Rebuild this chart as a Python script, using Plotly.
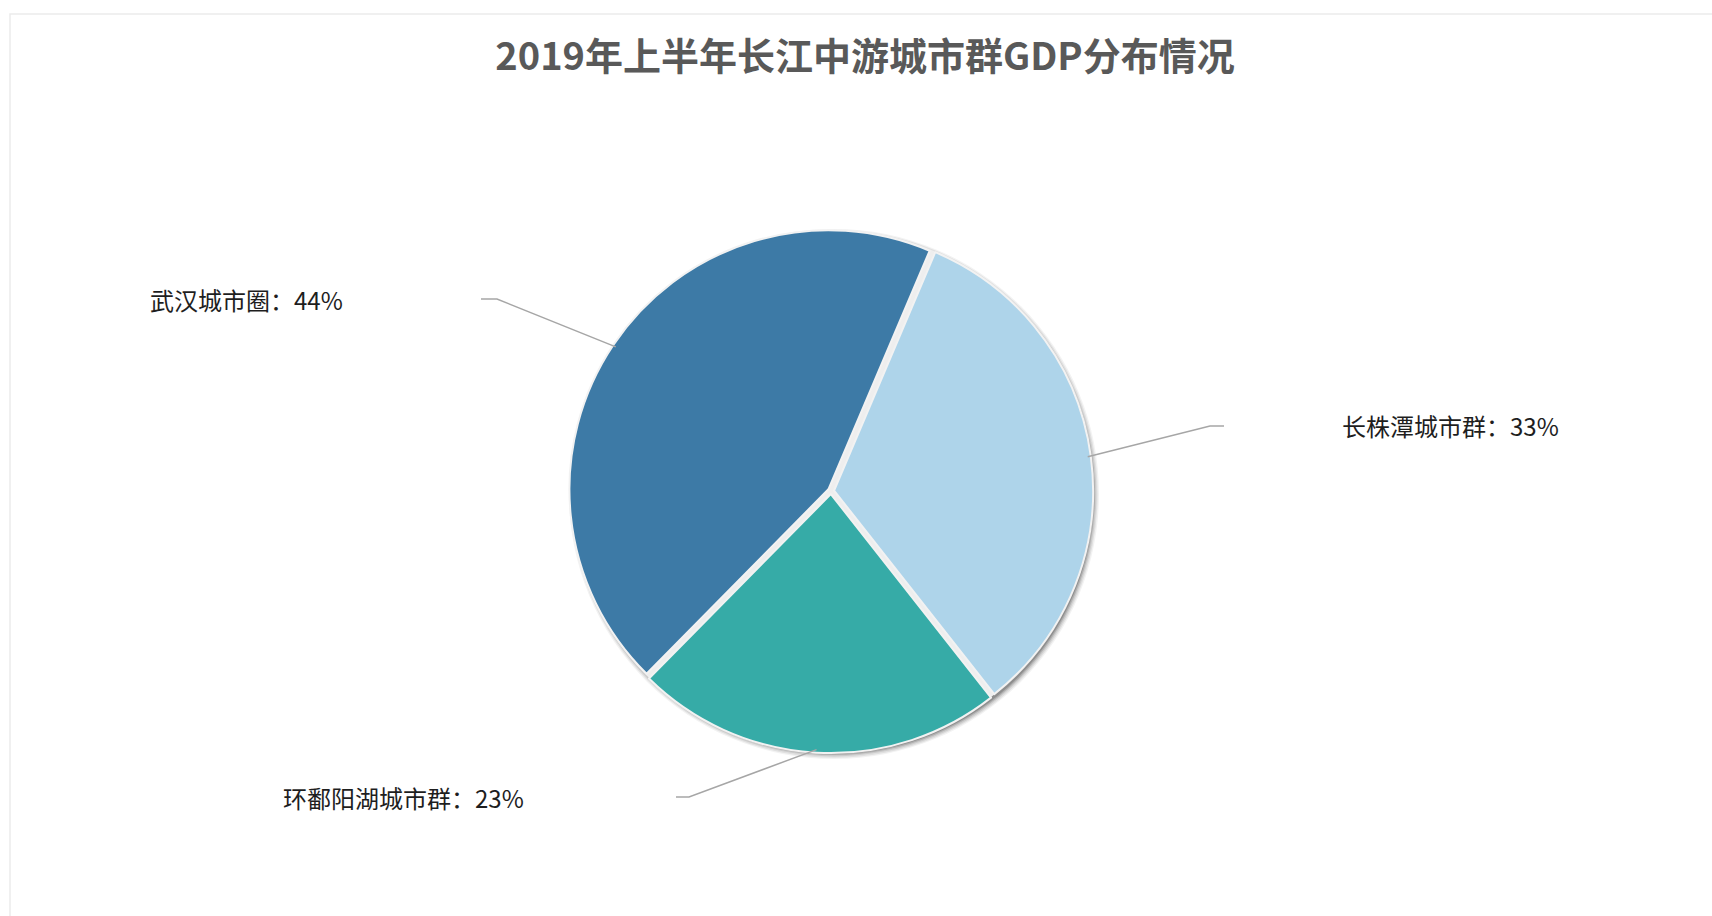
import math
import plotly.graph_objects as go

# Data: share of H1 2019 GDP among the city clusters of the middle Yangtze
regions = ["长株潭城市群", "环鄱阳湖城市群", "武汉城市圈"]
shares = [33, 23, 44]
colors = ["#aed4ea", "#36aba7", "#3d7aa6"]

TITLE = "2019年上半年长江中游城市群GDP分布情况"

# Canvas and pie geometry (pixels)
W, H = 1712, 916
CX, CY, R = 831, 491, 259
PULL = 0.012
ROTATION = 23
FONT = "Noto Sans CJK SC"

# Label layout: elbow point of leader, end of horizontal stub, text anchor x, side
label_layout = {
    "长株潭城市群": dict(elbow=(1210, 426), end=1224, tx=1340, side="left"),
    "环鄱阳湖城市群": dict(elbow=(689, 797), end=676, tx=526, side="right"),
    "武汉城市圈": dict(elbow=(497, 299), end=481, tx=345, side="right"),
}


def px(x):
    return x / W


def py(y):
    return 1 - y / H


# Pie domain: plotly shrinks the radius by (1 + pull)
half = R * (1 + PULL)
dom_x = [px(CX - half), px(CX + half)]
dom_y = [py(CY + half), py(CY - half)]

fig = go.Figure()
fig.add_trace(go.Pie(
    labels=regions,
    values=shares,
    sort=False,
    direction="clockwise",
    rotation=ROTATION,
    pull=[PULL] * len(shares),
    marker=dict(colors=colors, line=dict(color="#f2f2f2", width=2)),
    textinfo="none",
    hoverinfo="label+percent",
    showlegend=False,
    domain=dict(x=dom_x, y=dom_y),
))

shapes = []
# Soft drop shadow behind the pie
for k, a in enumerate([0.05, 0.07, 0.09, 0.14, 0.18]):
    rr = R + 6 - k * 1.3
    ox, oy = CX + 3, CY + 3
    shapes.append(dict(
        type="circle", xref="paper", yref="paper", layer="below",
        x0=px(ox - rr), x1=px(ox + rr), y0=py(oy + rr), y1=py(oy - rr),
        fillcolor=f"rgba(0,0,0,{a})", line=dict(width=0),
    ))
# Light rim around the pie
shapes.append(dict(
    type="circle", xref="paper", yref="paper", layer="below",
    x0=px(CX - R - 2), x1=px(CX + R + 2), y0=py(CY + R + 2), y1=py(CY - R - 2),
    fillcolor="#eeeeee", line=dict(width=0),
))

# Frame around the chart
shapes.append(dict(
    type="rect", xref="paper", yref="paper", layer="below",
    x0=px(10), x1=1.01, y0=-0.01, y1=py(14),
    fillcolor="rgba(0,0,0,0)", line=dict(color="#ebebeb", width=1.5),
))

annotations = []
total = sum(shares)
start = ROTATION
for name, v in zip(regions, shares):
    span = 360 * v / total
    mid = math.radians(start + span / 2)
    start += span
    ex, ey = CX + R * math.sin(mid), CY - R * math.cos(mid)
    lay = label_layout[name]
    bx, by = lay["elbow"]
    shapes.append(dict(
        type="path", xref="paper", yref="paper",
        path=f"M {px(ex)},{py(ey)} L {px(bx)},{py(by)} L {px(lay['end'])},{py(by)}",
        line=dict(color="#a6a6a6", width=1.5),
    ))
    annotations.append(dict(
        x=px(lay["tx"]), y=py(by), xref="paper", yref="paper",
        text=f"{name}：{v}%", showarrow=False,
        xanchor=lay["side"], yanchor="middle",
        font=dict(family=FONT, size=24, color="#1e1e1e"),
    ))

fig.update_layout(
    width=W, height=H,
    margin=dict(l=0, r=0, t=0, b=0),
    paper_bgcolor="white", plot_bgcolor="white",
    title=dict(
        text=f"<b>{TITLE}</b>", x=px(865), xanchor="center",
        y=py(57), yanchor="middle",
        font=dict(family=FONT, size=38, color="#595959"),
    ),
    shapes=shapes,
    annotations=annotations,
)

fig.write_html("out.html")
